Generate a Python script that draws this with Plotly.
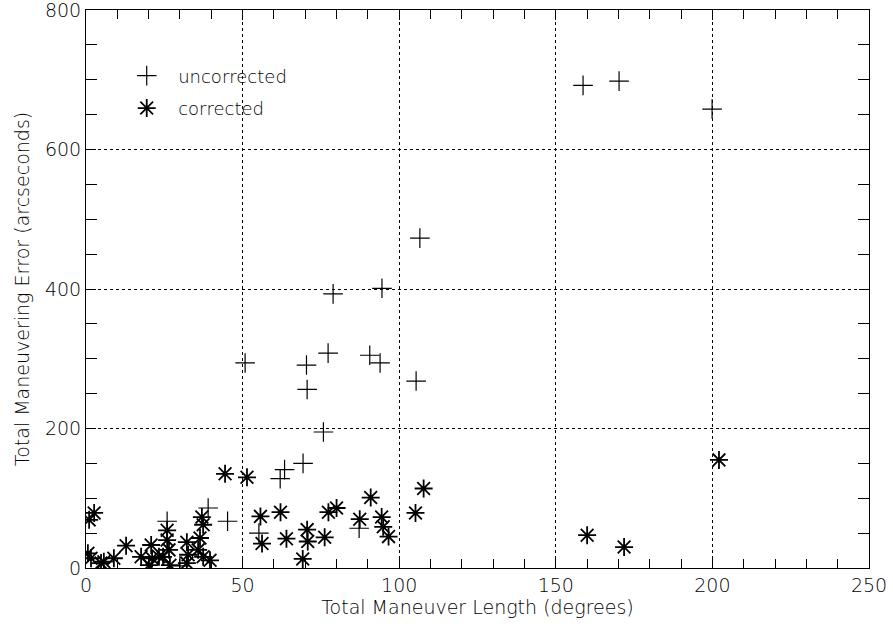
import plotly.graph_objects as go

# Uncorrected (+) points: maneuver length (deg), error (arcsec)
uncorrected_x = [158.7, 170.2, 199.9, 106.6, 94.5, 78.9, 50.8, 70.4, 70.6, 77.3, 90.6, 93.9,
                 105.4, 75.8, 69.3, 63.4, 62.0, 45.2, 55.2, 87.2, 39.0, 25.9, 30.0]
uncorrected_y = [692, 698, 658, 473, 401, 393, 294, 291, 256, 308, 305, 294,
                 268, 195, 150, 141, 128, 67, 50, 57, 86, 67, 3]

# Corrected (*) points
corrected_x = [202.1, 160.0, 171.8, 107.8, 105.2, 90.9, 94.4, 94.9, 96.6, 80.0, 77.4, 87.4,
               76.2, 70.6, 70.8, 69.2, 62.1, 64.0, 55.7, 56.2, 44.4, 51.4,
               2.6, 1.0, 0.6, 1.6, 4.8, 5.7, 8.9, 12.8, 17.6, 20.8, 21.1, 20.1, 23.3,
               25.9, 25.9, 26.5, 24.6, 26.8, 32.2, 32.6, 32.2, 36.4, 35.8, 37.0, 37.4,
               37.4, 39.6]
corrected_y = [155, 47, 30, 114, 79, 101, 73, 59, 45, 86, 80, 70,
               44, 55, 38, 13, 80, 42, 74, 35, 135, 130,
               79, 69, 21, 14, 7, 9, 14, 32, 16, 33, 14, 4, 16,
               54, 40, 26, 16, 4, 37, 19, 7, 43, 26, 73, 62,
               16, 11]

x_ticks = [0, 50, 100, 150, 200, 250]
y_ticks = [0, 200, 400, 600, 800]

FONT = "DejaVu Sans"
INK = "#000000"
FS = 19

fig = go.Figure()
fig.add_trace(go.Scatter(
    x=uncorrected_x, y=uncorrected_y, mode="markers", name="\u00a0\u00a0uncorrected",
    legendgroup="a",
    marker=dict(symbol="cross-thin", size=14, color="black",
                line=dict(color="black", width=1.2)),
))
fig.add_trace(go.Scatter(
    x=corrected_x, y=corrected_y, mode="markers", name="\u00a0\u00a0corrected",
    legendgroup="b",
    marker=dict(symbol="asterisk", size=15, color="black",
                line=dict(color="black", width=1.8)),
))

axis_common = dict(
    showline=True, linecolor="black", linewidth=1, mirror="allticks",
    ticks="inside", ticklen=10, tickcolor="black", tickwidth=1,
    showgrid=True, gridcolor="black", gridwidth=1, griddash="3px,3px",
    zeroline=False, automargin=False, ticklabeloverflow="allow",
    tickfont=dict(family=FONT, size=FS, color=INK, weight=300),
)

x_minor = [v for v in range(0, 251, 10) if v % 50 != 0]
y_minor = [v for v in range(0, 801, 50) if v % 200 != 0]

fig.update_xaxes(
    range=[0, 250], tickmode="array", tickvals=x_ticks, ticktext=[str(v) for v in x_ticks],
    minor=dict(tickmode="array", tickvals=x_minor, ticks="inside", ticklen=9,
               tickcolor="black", showgrid=False),
    title=dict(text="Total Maneuver Length (degrees)",
               font=dict(family=FONT, size=FS, color=INK, weight=300), standoff=4),
    **axis_common,
)
fig.update_yaxes(
    range=[0, 800], tickmode="array", tickvals=y_ticks, ticktext=[str(v) for v in y_ticks],
    minor=dict(tickmode="array", tickvals=y_minor, ticks="inside", ticklen=11,
               tickcolor="black", showgrid=False),
    title=dict(text="Total Maneuvering Error (arcseconds)",
               font=dict(family=FONT, size=FS, color=INK, weight=300), standoff=10),
    **axis_common,
)

fig.update_layout(
    width=893, height=628,
    margin=dict(l=86, r=24, t=10, b=60),
    plot_bgcolor="white", paper_bgcolor="white",
    font=dict(family=FONT, size=FS, color=INK),
    showlegend=True,
    legend=dict(x=0.052, y=0.915, xanchor="left", yanchor="top",
                bgcolor="rgba(0,0,0,0)", borderwidth=0,
                traceorder="grouped", tracegroupgap=6,
                font=dict(family=FONT, size=FS - 1, color=INK, weight=300)),
)

fig.write_html("out.html")
